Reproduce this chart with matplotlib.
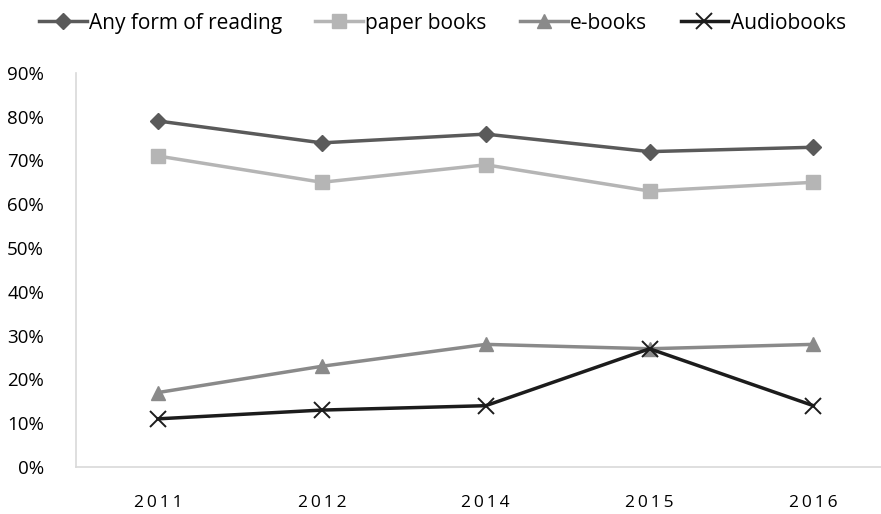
import matplotlib.pyplot as plt
from matplotlib.ticker import FuncFormatter

years = ["2011", "2012", "2014", "2015", "2016"]
any_reading = [0.79, 0.74, 0.76, 0.72, 0.73]
paper_books = [0.71, 0.65, 0.69, 0.63, 0.65]
e_books = [0.17, 0.23, 0.28, 0.27, 0.28]
audiobooks = [0.11, 0.13, 0.14, 0.27, 0.14]

plt.rcParams["font.family"] = ["Open Sans", "DejaVu Sans"]

fig = plt.figure(figsize=(8.81, 5.14), dpi=100)
ax = fig.add_axes([0.0863, 0.0914, 0.93, 0.767])

x = list(range(len(years)))
ax.plot(x, any_reading, color="#5a5a5a", marker="D", markersize=8, linewidth=2.5,
        label="Any form of reading")
ax.plot(x, paper_books, color="#b5b5b5", marker="s", markersize=10, linewidth=2.5,
        label="paper books")
ax.plot(x, e_books, color="#8a8a8a", marker="^", markersize=10, linewidth=2.5,
        label="e-books")
ax.plot(x, audiobooks, color="#1c1c1c", marker="x", markersize=11, markeredgewidth=1.4,
        linewidth=2.5, label="Audiobooks")

ax.set_xlim(-0.5, 4.5)
ax.set_ylim(0, 0.9)
ax.set_yticks([i / 10 for i in range(10)])
ax.yaxis.set_major_formatter(FuncFormatter(lambda v, p: f"{round(v * 100)}%"))
ax.set_xticks(x)
ax.set_xticklabels(["\u2009".join(y) for y in years])
ax.tick_params(axis="both", length=0, colors="#000000")
ax.tick_params(axis="y", labelsize=13.5, pad=23)
ax.tick_params(axis="x", labelsize=12.5, pad=20)

for s in ["top", "right"]:
    ax.spines[s].set_visible(False)
for s in ["left", "bottom"]:
    ax.spines[s].set_color("#d9d9d9")
    ax.spines[s].set_linewidth(1.2)

fig.legend(loc="upper center", bbox_to_anchor=(0.502, 1.012), ncol=4, frameon=False,
           prop={"family": ["Liberation Sans Narrow", "Open Sans"], "size": 15},
           handlelength=2.3, handletextpad=0.1, columnspacing=1.6)

plt.savefig("out.png", dpi=100)
plt.close()
